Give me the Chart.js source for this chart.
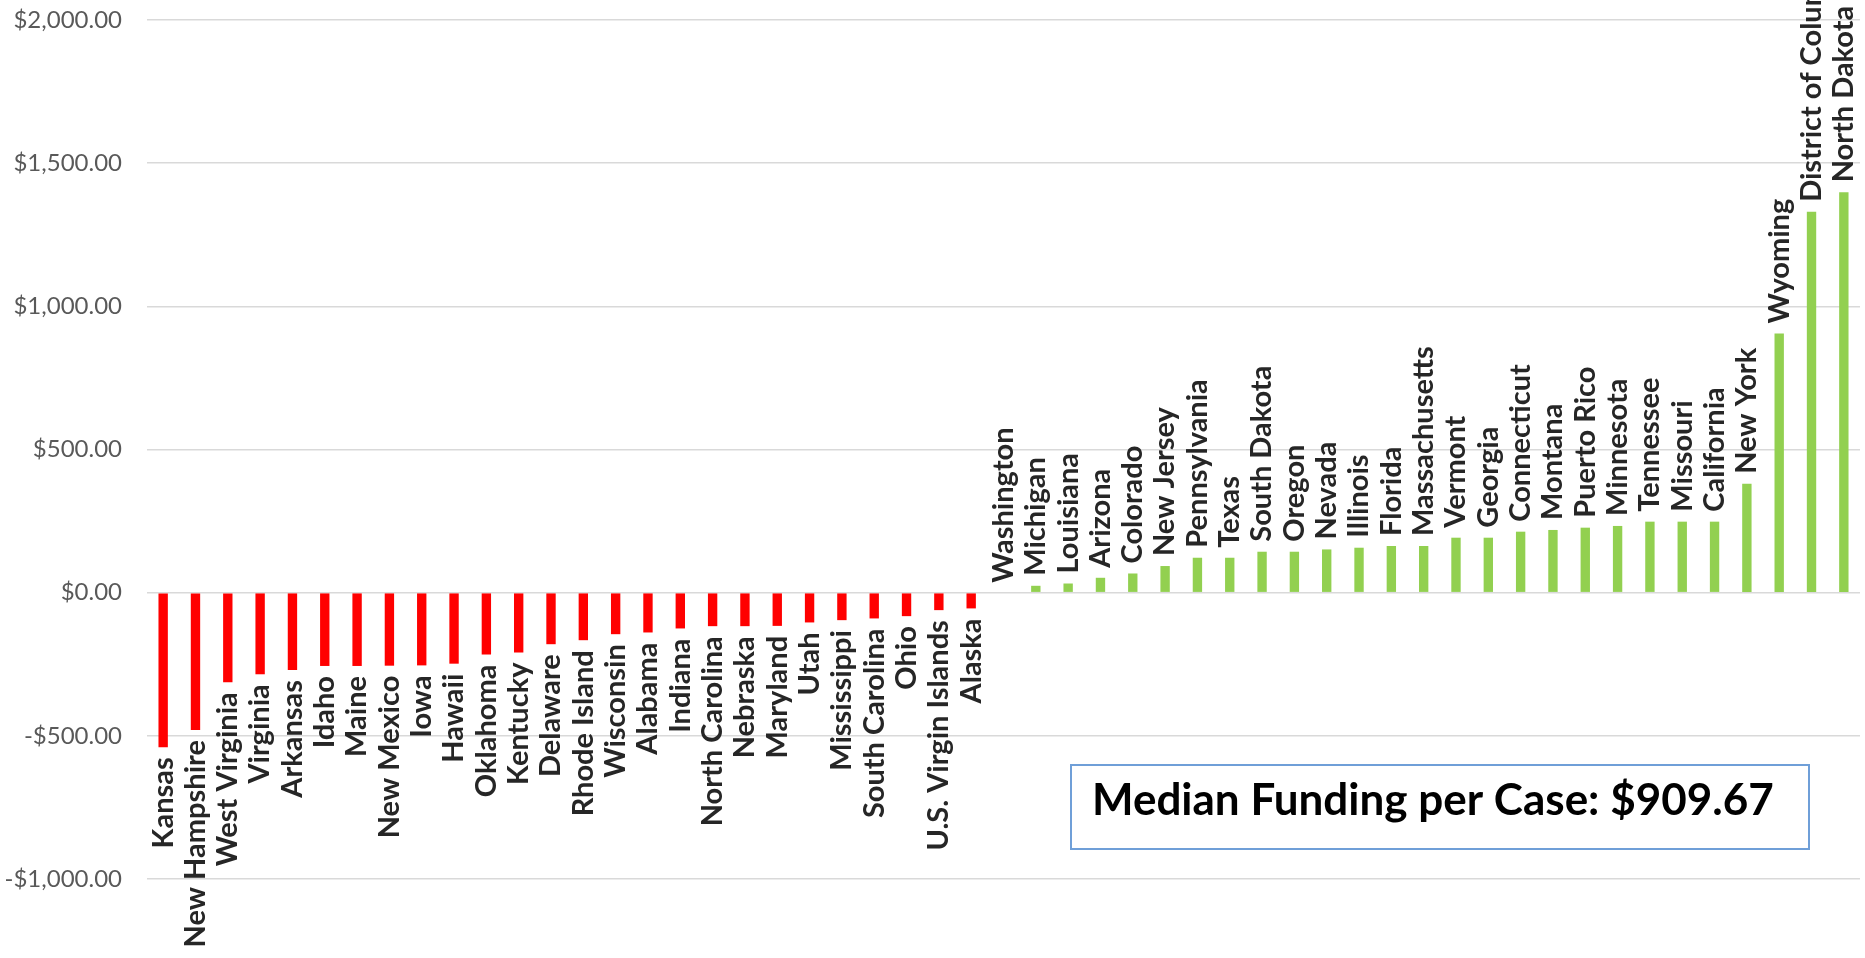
<!DOCTYPE html>
<html>
<head>
<meta charset="utf-8">
<script src="https://cdn.jsdelivr.net/npm/chart.js@4.4.1/dist/chart.umd.min.js"></script>
<style>
  html, body { margin: 0; padding: 0; background: #ffffff; }
  #wrap { position: relative; width: 1865px; height: 958px; }
</style>
</head>
<body>
<div id="wrap"><canvas id="fundingChart"></canvas></div>
<script>
// states, sorted by difference from the median funding per case
const states = [
    'Kansas', 'New Hampshire', 'West Virginia', 'Virginia', 'Arkansas', 'Idaho', 'Maine',
    'New Mexico', 'Iowa', 'Hawaii', 'Oklahoma', 'Kentucky', 'Delaware', 'Rhode Island',
    'Wisconsin', 'Alabama', 'Indiana', 'North Carolina', 'Nebraska', 'Maryland', 'Utah',
    'Mississippi', 'South Carolina', 'Ohio', 'U.S. Virgin Islands', 'Alaska',
    'Washington', 'Michigan', 'Louisiana', 'Arizona', 'Colorado', 'New Jersey', 'Pennsylvania',
    'Texas', 'South Dakota', 'Oregon', 'Nevada', 'Illinois', 'Florida', 'Massachusetts',
    'Vermont', 'Georgia', 'Connecticut', 'Montana', 'Puerto Rico', 'Minnesota', 'Tennessee',
    'Missouri', 'California', 'New York', 'Wyoming', 'District of Columbia', 'North Dakota'
];
const values = [
    -540, -480, -313, -285, -270, -256, -256,
    -255, -254, -248, -216, -209, -180, -166,
    -145, -139, -125, -117, -117, -116, -104,
    -96, -90, -82, -61, -55,
    0, 24, 32, 52, 67, 93, 122,
    122, 143, 143, 151, 157, 163, 163,
    192, 192, 213, 219, 227, 233, 248,
    248, 248, 380, 905, 1330, 1398
];
const yTicks = [-1000, -500, 0, 500, 1000, 1500, 2000];
const medianText = 'Median Funding per Case: $909.67';

const barColors = values.map(v => v < 0 ? '#FF0000' : '#92D050');

function formatMoney(v) {
    const s = '$' + Math.abs(v).toLocaleString('en-US', { minimumFractionDigits: 2, maximumFractionDigits: 2 });
    return v < 0 ? '-' + s : s;
}

// category names written at the end of each bar, turned 90 degrees
const barLabels = {
    id: 'barLabels',
    afterDatasetsDraw(chart) {
        const ctx = chart.ctx;
        const meta = chart.getDatasetMeta(0);
        ctx.save();
        ctx.font = 'bold 29px Lato';
        ctx.fillStyle = '#262626';
        ctx.textBaseline = 'middle';
        meta.data.forEach((bar, i) => {
            ctx.save();
            if (values[i] < 0) {
                ctx.translate(bar.x, bar.y + 10);
                ctx.rotate(-Math.PI / 2);
                ctx.textAlign = 'right';
            } else {
                ctx.translate(bar.x, bar.y - 10);
                ctx.rotate(-Math.PI / 2);
                ctx.textAlign = 'left';
            }
            ctx.fillText(states[i], 0, 0);
            ctx.restore();
        });
        ctx.restore();
    }
};

// text box with the median
const medianBox = {
    id: 'medianBox',
    afterDraw(chart) {
        const ctx = chart.ctx;
        ctx.save();
        ctx.fillStyle = '#ffffff';
        ctx.fillRect(1071, 765, 738, 84);
        ctx.strokeStyle = '#6F9FD8';
        ctx.lineWidth = 2;
        ctx.strokeRect(1071, 765, 738, 84);
        ctx.font = 'bold 44px Lato';
        ctx.fillStyle = '#000000';
        ctx.textAlign = 'left';
        ctx.textBaseline = 'alphabetic';
        ctx.fillText(medianText, 1092, 815);
        ctx.restore();
    }
};

const ctx = document.getElementById('fundingChart').getContext('2d');
const myChart = new Chart(ctx, {
    type: 'bar',
    data: {
        labels: states,
        datasets: [{
            label: 'Funding per case vs median',
            data: values,
            backgroundColor: barColors,
            borderWidth: 0,
            barPercentage: 0.29,
            categoryPercentage: 1.0
        }]
    },
    options: {
        responsive: true,
        maintainAspectRatio: false,
        animation: false,
        layout: { padding: { top: 20, bottom: 79, left: 0, right: 5 } },
        plugins: {
            legend: { display: false },
            tooltip: { enabled: false }
        },
        scales: {
            x: {
                display: false
            },
            y: {
                min: yTicks[0],
                max: yTicks[yTicks.length - 1],
                afterBuildTicks: axis => { axis.ticks = yTicks.map(v => ({ value: v })); },
                afterFit: axis => {
                    axis.width = 147;
                    axis.paddingTop = 0;
                    axis.paddingBottom = 0;
                },
                border: { display: false },
                grid: { color: '#D9D9D9', lineWidth: 1.5, drawTicks: false },
                ticks: {
                    padding: 25,
                    color: '#595959',
                    font: { family: 'Lato', size: 24 },
                    callback: v => formatMoney(v)
                }
            }
        }
    },
    plugins: [barLabels, medianBox]
});
</script>
</body>
</html>
